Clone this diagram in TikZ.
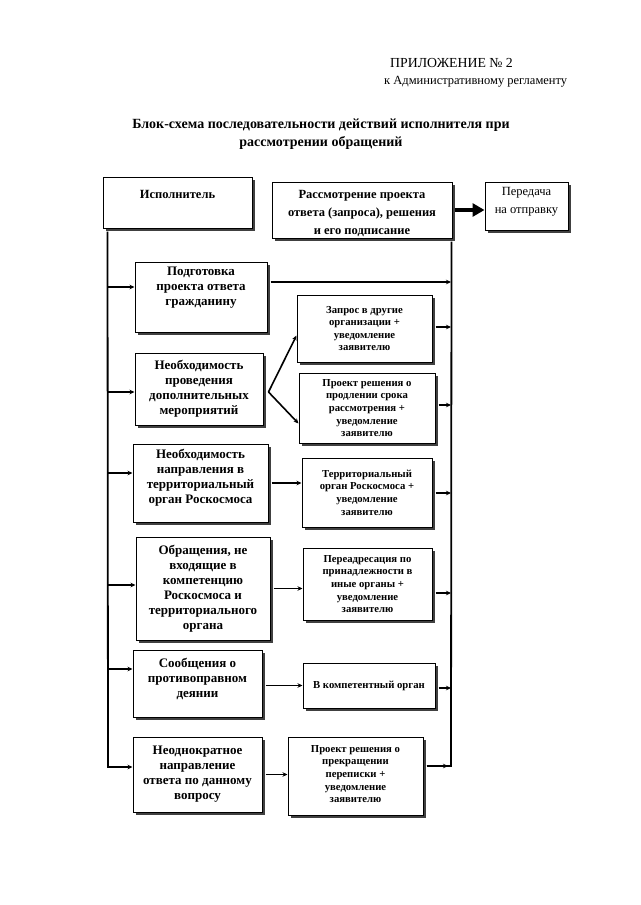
\documentclass[tikz,border=0pt]{standalone}
\usepackage{fontspec}
\setmainfont{Liberation Serif}
\usetikzlibrary{arrows.meta,shadows}
\tikzset{
 boxs/.style={draw=black, line width=1pt, fill=white, inner sep=0pt,
   drop shadow={shadow xshift=3pt, shadow yshift=-3pt, fill=black!75, opacity=1}},
 big/.style={font=\fontsize{13}{15}\selectfont\bfseries, align=center, inner sep=0pt},
 small/.style={font=\fontsize{10.7}{12.6}\selectfont\bfseries, align=center, inner sep=0pt},
 topb/.style={font=\fontsize{12.5}{18}\selectfont\bfseries, align=center, inner sep=0pt},
 topr/.style={font=\fontsize{12.5}{18}\selectfont, align=center, inner sep=0pt},
 ln/.style={line width=1.8pt},
 arr/.style={line width=1.6pt, -{Stealth[length=5pt,width=4.5pt]}},
}
\newcommand\mybox[8][0]{%
 \pgfmathsetmacro\bw{#6-#4}\pgfmathsetmacro\bh{#7-#5}%
 \node[boxs, minimum width=\bw pt, minimum height=\bh pt] (#2) at ({(#4+#6)/2},{(#5+#7)/2}) {};
 \node[#3] (#2t) at ([yshift=#1pt]#2.center) {#8};}
\begin{document}
\begin{tikzpicture}[x=1pt,y=-1pt]
\useasboundingbox (0,0) rectangle (640,905);
\fill[white] (0,0) rectangle (640,905);
% header
\node[anchor=west, inner sep=0pt, font=\fontsize{13.8}{15}\selectfont] (h1) at (390,63) {ПРИЛОЖЕНИЕ № 2};
\node[anchor=west, inner sep=0pt, font=\fontsize{12.5}{15}\selectfont] (h2) at (384,82) {к Административному регламенту};
\node[inner sep=0pt, align=center, font=\fontsize{14}{18}\selectfont\bfseries] (title) at (321,134)
  {Блок-схема последовательности действий исполнителя при\\рассмотрении обращений};
% top row
\mybox[8]{isp}{topb}{103}{177}{252}{228}{Исполнитель}
\mybox[-3]{ras}{topb}{272}{182}{452}{238}{Рассмотрение проекта\\ответа (запроса), решения\\и его подписание}
\mybox[4]{per}{topr}{485}{182}{568}{230}{Передача\\на отправку}
% left column
\mybox[9]{pod}{big}{135}{262}{267}{332}{Подготовка\\проекта ответа\\гражданину}
\mybox{neoa}{big}{135}{353}{263}{425}{Необходимость\\проведения\\дополнительных\\мероприятий}
\mybox[5]{neob}{big}{133}{444}{268}{522}{Необходимость\\направления в\\территориальный\\орган Роскосмоса}
\mybox{obr}{big}{136}{537}{270}{640}{Обращения, не\\входящие в\\компетенцию\\Роскосмоса и\\территориального\\органа}
\mybox[5]{soob}{big}{133}{650}{262}{717}{Сообщения о\\противоправном\\деянии}
\mybox{neod}{big}{133}{737}{262}{812}{Неоднократное\\направление\\ответа по данному\\вопросу}
% right column
\mybox{zap}{small}{297}{295}{432}{362}{Запрос в другие\\организации +\\уведомление\\заявителю}
\mybox{prd}{small}{299}{373}{435}{443}{Проект решения о\\продлении срока\\рассмотрения +\\уведомление\\заявителю}
\mybox{ter}{small}{302}{458}{432}{527}{Территориальный\\орган Роскосмоса +\\уведомление\\заявителю}
\mybox{pere}{small}{303}{548}{432}{620}{Переадресация по\\принадлежности в\\иные органы +\\уведомление\\заявителю}
\mybox{komp}{small}{303}{663}{435}{708}{В компетентный орган}
\mybox[2]{prek}{small}{288}{737}{423}{815}{Проект решения о\\прекращении\\переписки +\\уведомление\\заявителю}
% thick arrow
\draw[line width=4.5pt, -{Triangle[length=12pt,width=13pt]}] ([xshift=2pt]ras.east) -- (ras.east -| per.west);
% left bus
\coordinate (l1) at (108,287);
\coordinate (l2) at (108,392);
\coordinate (l3) at (108,473);
\coordinate (l4) at (108,585);
\coordinate (l5) at (108,669);
\coordinate (l6) at (108,767);
\draw[ln] ([xshift=5pt,yshift=-3pt]isp.south west) -- ([yshift=-0.9pt]l6);
\draw[arr] (l1) -- (l1 -| pod.west);
\draw[arr] (l2) -- (l2 -| neoa.west);
\draw[arr] (l3) -- (l3 -| neob.west);
\draw[arr] (l4) -- (l4 -| obr.west);
\draw[arr] (l5) -- (l5 -| soob.west);
\draw[arr] ([xshift=-0.9pt]l6) -- (l6 -| neod.west);
% right bus
\coordinate (r1) at (451,282);
\coordinate (r2) at (451,327);
\coordinate (r3) at (451,405);
\coordinate (r4) at (451,493);
\coordinate (r5) at (451,593);
\coordinate (r6) at (451,688);
\coordinate (r7) at (451,766);
\draw[ln] ([xshift=-1pt,yshift=-3pt]ras.south east) -- ([yshift=-0.9pt]r7);
\draw[arr] ([xshift=3pt]r1 -| pod.east) -- (r1);
\draw[arr] ([xshift=3pt]r2 -| zap.east) -- (r2);
\draw[arr] ([xshift=3pt]r3 -| prd.east) -- (r3);
\draw[arr] ([xshift=3pt]r4 -| ter.east) -- (r4);
\draw[arr] ([xshift=3pt]r5 -| pere.east) -- (r5);
\draw[arr] ([xshift=3pt]r6 -| komp.east) -- (r6);
\draw[ln] ([xshift=3pt]r7 -| prek.east) -- ([xshift=0.9pt]r7);
\draw[arr] ([xshift=3pt]r7 -| prek.east) -- ([xshift=-3pt]r7);
% middle connectors
\coordinate (fk) at ([xshift=5pt,yshift=-3pt]neoa.east);
\draw[arr] (fk) -- ([yshift=27pt]zap.south west);
\draw[arr] (fk) -- ([yshift=20pt]prd.south west);
\draw[arr] ([xshift=3pt]neob.east) -- (neob.east -| ter.west);
\draw[arr] ([xshift=3pt]obr.east) -- (obr.east -| pere.west);
\draw[arr] ([xshift=3pt]komp.west -| soob.east) -- (komp.west);
\draw[arr] ([xshift=3pt]neod.east) -- (neod.east -| prek.west);
\end{tikzpicture}
\end{document}
